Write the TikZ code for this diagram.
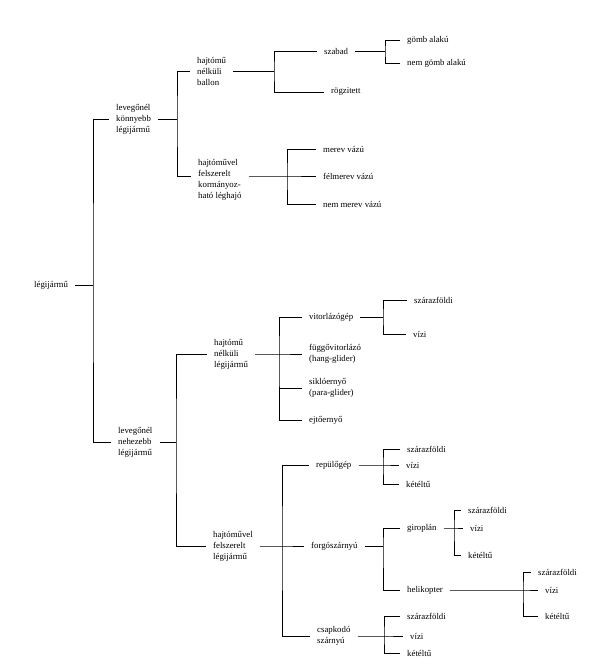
\documentclass[tikz,border=0pt]{standalone}
\usepackage{fontspec}
\setmainfont{Liberation Serif}
\tikzset{
  lbl/.style={anchor=west, align=left, inner xsep=7pt, inner ysep=1pt, font=\fontsize{8.8}{11}\selectfont},
  br/.style={line width=0.6pt}
}
\begin{document}
\begin{tikzpicture}[x=1pt, y=-1pt]
  \useasboundingbox (0,0) rectangle (597,666);
  \node[lbl] (root) at (27,285) {légijármű};
  \node[lbl] (l1) at (109,119) {levegőnél\\könnyebb\\légijármű};
  \node[lbl] (l2) at (111,442) {levegőnél\\nehezebb\\légijármű};
  \node[lbl] (b1) at (190,71) {hajtómű\\nélküli\\ballon};
  \node[lbl] (b2) at (191,180) {hajtóművel\\felszerelt\\kormányoz-\\ható léghajó};
  \node[lbl] (szabad) at (317,51) {szabad};
  \node[lbl] (rogz) at (324,92) {rögzitett};
  \node[lbl] (gomb) at (400,40) {gömb alakú};
  \node[lbl] (nemgomb) at (400,63) {nem gömb alakú};
  \node[lbl] (merev) at (316,149) {merev vázú};
  \node[lbl] (felmerev) at (316,176) {félmerev vázú};
  \node[lbl] (nemmerev) at (316,204) {nem merev vázú};
  \node[lbl] (hn) at (207,354) {hajtómű\\nélküli\\légijármű};
  \node[lbl] (hf) at (206,546) {hajtóművel\\felszerelt\\légijármű};
  \node[lbl] (vitorl) at (302,317) {vitorlázógép};
  \node[lbl] (fugg) at (302,354) {függővitorlázó\\(hang-glider)};
  \node[lbl] (sikl) at (302,388) {siklóernyő\\(para-glider)};
  \node[lbl] (ejt) at (302,420) {ejtőernyő};
  \node[lbl] (sz1) at (407,300) {szárazföldi};
  \node[lbl] (vi1) at (406,334) {vízi};
  \node[lbl] (rep) at (309,465) {repülőgép};
  \node[lbl] (forgo) at (304,546) {forgószárnyú};
  \node[lbl] (csap) at (310,636) {csapkodó\\szárnyú};
  \node[lbl] (sz2) at (400,449) {szárazföldi};
  \node[lbl] (vi2) at (399,465) {vízi};
  \node[lbl] (ke2) at (399,484) {kétéltű};
  \node[lbl] (giro) at (400,528) {giroplán};
  \node[lbl] (heli) at (400,590) {helikopter};
  \node[lbl] (sz3) at (461,510) {szárazföldi};
  \node[lbl] (vi3) at (463,528) {vízi};
  \node[lbl] (ke3) at (461,555) {kétéltű};
  \node[lbl] (sz4) at (531,572) {szárazföldi};
  \node[lbl] (vi4) at (538,590) {vízi};
  \node[lbl] (ke4) at (538,616) {kétéltű};
  \node[lbl] (sz5) at (400,616) {szárazföldi};
  \node[lbl] (vi5) at (403,636) {vízi};
  \node[lbl] (ke5) at (400,653) {kétéltű};

  \coordinate (j0) at (93,285);
  \coordinate (j1) at (177,119);
  \coordinate (j2) at (274,71);
  \coordinate (j3) at (385,51);
  \coordinate (j4) at (287,176);
  \coordinate (j5) at (176,442);
  \coordinate (j6) at (279,354);
  \coordinate (j7) at (383,317);
  \coordinate (j8) at (282,546);
  \coordinate (j9) at (383,465);
  \coordinate (j10) at (383,546);
  \coordinate (j11) at (454,528);
  \coordinate (j12) at (523,590);
  \coordinate (j13) at (384,636);

  \draw[br] (root.east) -- (j0);
  \draw[br] (l1.west) -| (j0) |- (l2.west);
  \draw[br] (l1.east) -- (j1);
  \draw[br] (b1.west) -| (j1) |- ([yshift=4pt]b2.west);
  \draw[br] (b1.east) -- (j2);
  \draw[br] (szabad.west) -| (j2) |- (rogz.west);
  \draw[br] (szabad.east) -- (j3);
  \draw[br] (gomb.west) -| (j3) |- (nemgomb.west);
  \draw[br] ([yshift=4pt]b2.east) -- (j4) -- (felmerev.west);
  \draw[br] (merev.west) -| (j4) |- (nemmerev.west);
  \draw[br] (l2.east) -- (j5);
  \draw[br] (hn.west) -| (j5) |- (hf.west);
  \draw[br] (hn.east) -- (j6) -- (fugg.west);
  \draw[br] (vitorl.west) -| (j6) |- (ejt.west);
  \draw[br] (j6 |- sikl.west) -- (sikl.west);
  \draw[br] (vitorl.east) -- (j7);
  \draw[br] (sz1.west) -| (j7) |- (vi1.west);
  \draw[br] (hf.east) -- (j8) -- (forgo.west);
  \draw[br] (rep.west) -| (j8) |- (csap.west);
  \draw[br] (rep.east) -- (j9) -- (vi2.west);
  \draw[br] (sz2.west) -| (j9) |- (ke2.west);
  \draw[br] (forgo.east) -- (j10);
  \draw[br] (giro.west) -| (j10) |- (heli.west);
  \draw[br] (giro.east) -- (j11) -- (vi3.west);
  \draw[br] (sz3.west) -| (j11) |- (ke3.west);
  \draw[br] (heli.east) -- (j12) -- (vi4.west);
  \draw[br] (sz4.west) -| (j12) |- (ke4.west);
  \draw[br] (csap.east) -- (j13) -- (vi5.west);
  \draw[br] (sz5.west) -| (j13) |- (ke5.west);
\end{tikzpicture}
\end{document}
